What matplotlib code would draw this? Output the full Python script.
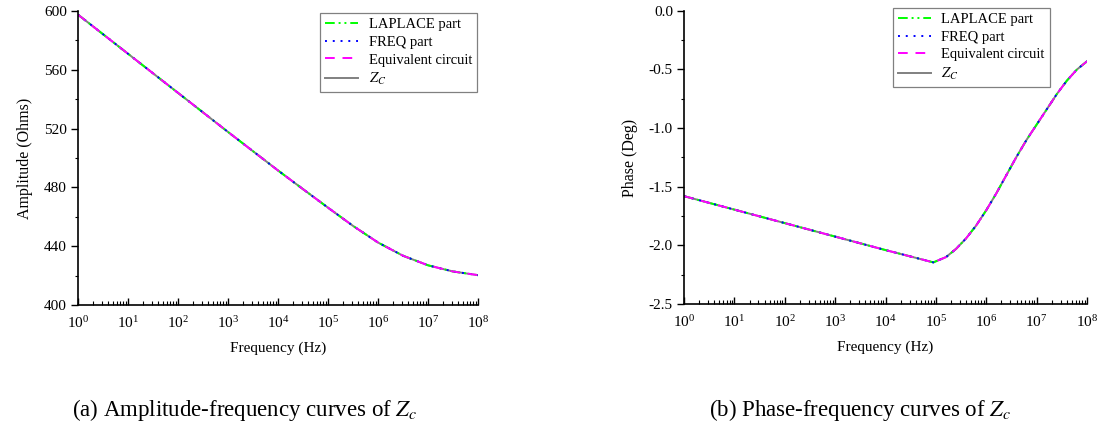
import numpy as np
import matplotlib
matplotlib.use("Agg")
import matplotlib.pyplot as plt
from matplotlib.ticker import MultipleLocator, LogLocator, NullFormatter

plt.rcParams['font.family'] = ['Liberation Serif', 'DejaVu Serif']
plt.rcParams['mathtext.fontset'] = 'stix'

# values (exponent of frequency)
amp_dec = [0, 1, 2, 3, 4, 4.5, 5, 5.5, 6, 6.5, 7, 7.5, 8]
amp_ohms = [597.5, 570.9, 544.3, 517.7, 491.5, 478.8, 466.2, 453.8, 442.5, 433.5, 427.0, 422.8, 420.3]

ph_dec = [0, 1, 2, 3, 4, 4.5, 4.95, 5.2, 5.4, 5.6, 5.8, 6.0, 6.2, 6.4, 6.6, 6.8,
          7.0, 7.2, 7.4, 7.6, 7.8, 8]
ph_deg = [-1.58, -1.695, -1.81, -1.925, -2.04, -2.095, -2.145, -2.10, -2.03, -1.94,
          -1.83, -1.70, -1.556, -1.40, -1.245, -1.10, -0.97, -0.84, -0.71, -0.595,
          -0.50, -0.43]

series = [
    ("$Z_C$", "#808080", "-"),
    ("LAPLACE part", "#00ff00", (0, (5, 2, 1, 2, 1, 2))),
    ("FREQ part", "#0000ff", (0, (1, 3))),
    ("Equivalent circuit", "#ff00ff", (0, (5, 4))),
]
legend_order = ["LAPLACE part", "FREQ part", "Equivalent circuit", "$Z_C$"]

fig = plt.figure(figsize=(10.99, 4.33), dpi=100)
ax1 = fig.add_axes([0.071, 0.2956, 0.364, 0.679])
ax2 = fig.add_axes([0.6224, 0.2979, 0.3667, 0.677])


def draw(ax, dec, vals, anchor):
    f = 10.0 ** np.array(dec)
    handles = {}
    for name, col, ls in series:
        h, = ax.plot(f, vals, color=col, linestyle=ls, lw=1.4, label=name)
        handles[name] = h
    leg = ax.legend([handles[n] for n in legend_order], legend_order,
                    loc='upper right', bbox_to_anchor=anchor, fontsize=10.5,
                    handlelength=2.3, handletextpad=0.7,
                    fancybox=False, edgecolor='#808080', framealpha=1,
                    borderpad=0.35, labelspacing=0.3, borderaxespad=0)
    leg.get_frame().set_linewidth(0.9)
    ax.set_xscale('log')
    ax.set_xlim(1, 1e8)
    ax.xaxis.set_major_locator(LogLocator(base=10, numticks=20))
    ax.xaxis.set_minor_locator(LogLocator(base=10, subs=np.arange(2, 10), numticks=20))
    ax.xaxis.set_minor_formatter(NullFormatter())
    ax.tick_params(axis='x', which='major', direction='in', length=5, width=1,
                   labelsize=11, pad=7)
    ax.tick_params(axis='x', which='minor', direction='in', length=3, width=0.8)
    ax.tick_params(axis='y', which='major', direction='out', length=5, width=1,
                   labelsize=11, pad=3)
    ax.tick_params(axis='y', which='minor', direction='out', length=2, width=0.8)
    ax.spines['top'].set_visible(False)
    ax.spines['right'].set_visible(False)
    ax.spines['left'].set_linewidth(1.2)
    ax.spines['bottom'].set_linewidth(1.2)
    ax.set_xlabel("Frequency (Hz)", fontsize=11, labelpad=8)


draw(ax1, amp_dec, amp_ohms, (0.9975, 0.993))
ax1.set_ylim(400, 600)
ax1.yaxis.set_major_locator(MultipleLocator(40))
ax1.yaxis.set_minor_locator(MultipleLocator(20))
ax1.set_ylabel("Amplitude (Ohms)", fontsize=11.5, labelpad=8)

draw(ax2, ph_dec, ph_deg, (0.908, 1.01))
ax2.set_ylim(-2.5, 0)
ax2.yaxis.set_major_locator(MultipleLocator(0.5))
ax2.yaxis.set_minor_locator(MultipleLocator(0.25))
ax2.yaxis.set_major_formatter(plt.FormatStrFormatter('%.1f'))
ax2.set_ylabel("Phase (Deg)", fontsize=11.5, labelpad=8)

fig.text(0.223, 0.053, "(a) Amplitude-frequency curves of $Z_c$", ha='center', va='center', fontsize=16.5)
fig.text(0.783, 0.053, "(b) Phase-frequency curves of $Z_c$", ha='center', va='center', fontsize=16.5)

fig.savefig("out.png", dpi=100)
